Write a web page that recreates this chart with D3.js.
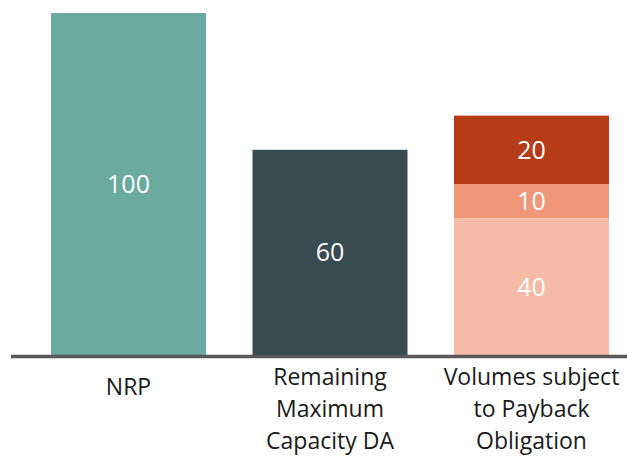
<!DOCTYPE html>
<html>
<head>
<meta charset="utf-8">
<script src="https://cdn.jsdelivr.net/npm/d3@7"></script>
<style>
  body { margin: 0; background: #fff; }
  text { font-family: "Open Sans", sans-serif; }
</style>
</head>
<body>
<svg id="chart" width="627" height="457"></svg>
<script>
// chart data
var categories = ["NRP", "Remaining Maximum Capacity DA", "Volumes subject to Payback Obligation"];
var labelLines = [["NRP"], ["Remaining", "Maximum", "Capacity DA"], ["Volumes subject", "to Payback", "Obligation"]];
var segmentNames = ["base", "mid", "top"];
var baseValues = [100, 60, 40];
var midValues = [0, 0, 10];
var topValues = [0, 0, 20];
var baseColors = ["#6aaa9f", "#374b51", "#f5bba6"];
var midColor = "#f0977a";
var topColor = "#b53c17";

var svg = d3.select("#chart");
var margin = { left: 11, right: 0, top: 13, bottom: 102 };
var w = 627, h = 457;
var baseline = h - margin.bottom;

var scaleX = d3.scaleBand()
    .domain(categories)
    .range([27.75, 632.25])
    .paddingInner(0.2308)
    .paddingOuter(0.1154);

var scaleY = d3.scaleLinear()
    .domain([0, 100])
    .range([baseline, margin.top]);

// build stack rows
var rows = categories.map((c, i) => ({ cat: c, base: baseValues[i], mid: midValues[i], top: topValues[i], idx: i }));
var stacked = d3.stack().keys(segmentNames)(rows);

var groups = svg.append("g").selectAll("g")
    .data(stacked)
    .enter()
    .append("g");

groups.selectAll("rect")
    .data((s) => s.map((d) => ({ key: s.key, d: d })))
    .enter()
    .filter((o) => o.d[1] - o.d[0] > 0)
    .append("rect")
    .attr("x", (o) => scaleX(o.d.data.cat))
    .attr("width", scaleX.bandwidth())
    .attr("y", (o) => scaleY(o.d[1]))
    .attr("height", (o) => scaleY(o.d[0]) - scaleY(o.d[1]))
    .attr("fill", (o) => o.key == "base" ? baseColors[o.d.data.idx] : (o.key == "mid" ? midColor : topColor));

groups.selectAll("text")
    .data((s) => s.map((d) => ({ key: s.key, d: d })))
    .enter()
    .filter((o) => o.d[1] - o.d[0] > 0)
    .append("text")
    .attr("x", (o) => scaleX(o.d.data.cat) + scaleX.bandwidth() / 2)
    .attr("y", (o) => (scaleY(o.d[0]) + scaleY(o.d[1])) / 2)
    .attr("dy", "0.36em")
    .attr("text-anchor", "middle")
    .attr("fill", "#fff")
    .style("font-size", "25px")
    .text((o) => o.d[1] - o.d[0]);

// axis line
var axis = d3.axisBottom(scaleX).tickSize(0).tickFormat("");
var axisG = svg.append("g")
    .attr("transform", "translate(0," + (baseline + 1.5) + ")")
    .call(axis);
axisG.select(".domain")
    .attr("d", "M" + margin.left + ",0H" + w)
    .attr("stroke", "#595959")
    .attr("stroke-width", 3.5);

// category labels
var lbl = svg.append("g").selectAll("text")
    .data(categories)
    .enter()
    .append("text")
    .attr("x", (c) => scaleX(c) + scaleX.bandwidth() / 2)
    .attr("y", (c, i) => labelLines[i].length == 1 ? 395 : 385)
    .attr("text-anchor", "middle")
    .attr("fill", "#1a1a1a")
    .style("font-size", "23px");

lbl.selectAll("tspan")
    .data((c, i) => labelLines[i])
    .enter()
    .append("tspan")
    .attr("x", function () { return d3.select(this.parentNode).attr("x"); })
    .attr("dy", (d, i) => i == 0 ? 0 : 32)
    .text((d) => d);
</script>
</body>
</html>
